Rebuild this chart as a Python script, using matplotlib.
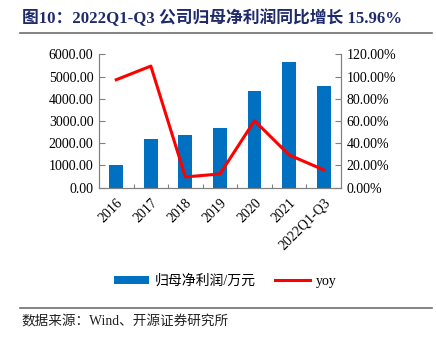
import matplotlib.pyplot as plt
from matplotlib.lines import Line2D
from matplotlib.patches import Patch
import numpy as np

plt.rcParams['font.family'] = ['Liberation Serif', 'Noto Sans CJK SC']

# 年度数据
years = ['2016', '2017', '2018', '2019', '2020', '2021', '2022Q1-Q3']
profit = [1020, 2180, 2385, 2700, 4340, 5640, 4590]   # 归母净利润/万元
yoy = [97.2, 109.5, 9.6, 12.3, 60.3, 29.4, 15.96]      # 同比 %

BLUE = '#0070C0'
RED = '#FF0000'
GRAY = '#808080'

fig = plt.figure(figsize=(4.36, 3.38), dpi=100)
ax = fig.add_axes([0.227, 0.445, 0.555, 0.394])
ax2 = ax.twinx()

x = np.arange(len(years))
ax.bar(x, profit, width=0.4, color=BLUE, zorder=2)
ax2.plot(x, yoy, color=RED, lw=2.2, zorder=3)

ax.set_xlim(-0.5, len(years) - 0.5)
ax.set_ylim(0, 6000)
ax.set_yticks(np.arange(0, 6001, 1000))
ax.set_yticklabels([f'{v:.2f}' for v in np.arange(0, 6001, 1000)])
ax2.set_ylim(0, 120)
ax2.set_yticks(np.arange(0, 121, 20))
ax2.set_yticklabels([f'{v:.2f}%' for v in np.arange(0, 121, 20)])

# 分类刻度放在柱子之间，标签放在柱子下方
ax.set_xticks(x[:-1] + 0.5)
ax.set_xticklabels([])
ax.set_xticks(x, minor=True)
ax.set_xticklabels(years, minor=True, rotation=45, ha='right',
                   rotation_mode='anchor', fontsize=10)
ax.tick_params(axis='x', which='minor', length=0, pad=6)
ax.tick_params(axis='x', which='major', direction='in', length=3, color=GRAY)

for a in (ax, ax2):
    a.spines['top'].set_visible(False)
    for s in ('left', 'right', 'bottom'):
        a.spines[s].set_color(GRAY)
    a.tick_params(axis='y', direction='in', length=4, color=GRAY,
                  labelsize=10, pad=4)
ax2.set_zorder(ax.get_zorder() + 1)
ax2.patch.set_visible(False)

# 标题
fig.text(0.05, 0.947, '图10：2022Q1-Q3 公司归母净利润同比增长 15.96%',
         fontsize=12.1, fontweight='bold', color='#1F2A6B', va='center',
         family=['Liberation Serif', 'Noto Sans CJK SC'])
fig.add_artist(Line2D([0.046, 0.99], [0.902, 0.902], color='#6E6E6E', lw=1.2))

# 图例
handles = [Patch(facecolor=BLUE, edgecolor='none'),
           Line2D([], [], color=RED, lw=2.2)]
fig.legend(handles, ['归母净利润/万元', 'yoy'], loc='center',
           bbox_to_anchor=(0.517, 0.168), ncol=2, frameon=False,
           fontsize=10, handlelength=2.5, handleheight=0.5,
           columnspacing=1.4, handletextpad=0.4)

# 资料来源
fig.add_artist(Line2D([0.046, 0.99], [0.089, 0.089], color='#6E6E6E', lw=1.2))
fig.text(0.05, 0.047, '数据来源：Wind、开源证券研究所', fontsize=9.8,
         va='center', color='#222222')

fig.savefig('out.png', dpi=100)
